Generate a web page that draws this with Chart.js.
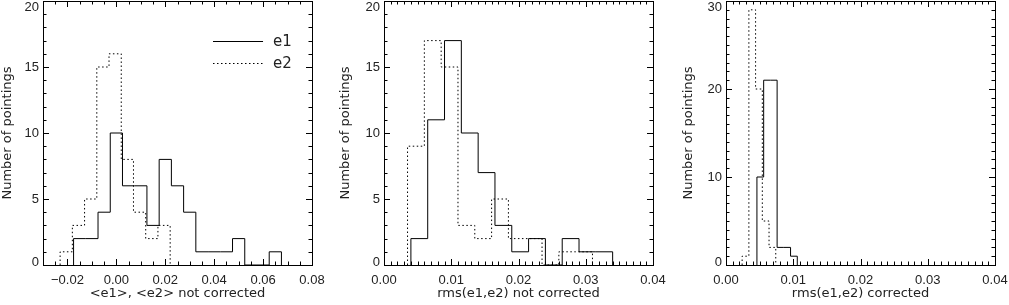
<!DOCTYPE html>
<html>
<head>
<meta charset="utf-8">
<script src="https://cdn.jsdelivr.net/npm/chart.js@4.4.1/dist/chart.umd.min.js"></script>
<style>
  html, body { margin: 0; padding: 0; background: #fff; }
  body { width: 1009px; height: 305px; position: relative; overflow: hidden; }
  canvas { position: absolute; top: 0; }
</style>
</head>
<body>
<canvas id="p1" width="332" height="305" style="left:0px"></canvas>
<canvas id="p2" width="335" height="305" style="left:338px"></canvas>
<canvas id="p3" width="328" height="305" style="left:681px"></canvas>
<script>
// bin edges and counts
const p1E1Edges = [-0.0175, -0.0125, -0.0075, -0.0025, 0.0025, 0.0075, 0.0125, 0.0175, 0.0225, 0.0275, 0.0325, 0.0375, 0.0425, 0.0475, 0.0525, 0.0575, 0.0625, 0.0675];
const p1E1Counts = [2, 2, 4, 10, 6, 6, 3, 8, 6, 4, 1, 1, 1, 2, 0, 0, 1];
const p1E2Edges = [-0.023, -0.018, -0.013, -0.008, -0.003, 0.002, 0.007, 0.012, 0.017, 0.022];
const p1E2Counts = [1, 3, 5, 15, 16, 8, 4, 2, 3];

const p2E1Edges = [0.004, 0.0065, 0.009, 0.0115, 0.014, 0.0165, 0.019, 0.0215, 0.024, 0.0265, 0.029, 0.0315, 0.034];
const p2E1Counts = [2, 11, 17, 10, 7, 3, 1, 2, 0, 2, 1, 1];
const p2E2Edges = [0.0035, 0.006, 0.0085, 0.011, 0.0135, 0.016, 0.0185, 0.021, 0.0235, 0.026, 0.0285, 0.031];
const p2E2Counts = [9, 17, 15, 3, 2, 5, 2, 2, 0, 1, 1];

const p3E1Edges = [0.0046, 0.0056, 0.0066, 0.0076, 0.0086, 0.0096, 0.0106];
const p3E1Counts = [10, 21, 21, 2, 2, 1];
const p3E2Edges = [0.0024, 0.0034, 0.0044, 0.0054, 0.0064, 0.0074];
const p3E2Counts = [1, 29, 20, 5, 2];

const seriesNames = ['e1', 'e2'];
const yTitle = 'Number of pointings';
const xTitles = ['<e1>, <e2> not corrected', 'rms(e1,e2) not corrected', 'rms(e1,e2) corrected'];

const textColor = '#222';
const tickFont = { family: "'Liberation Sans', Arial, sans-serif", size: 13 };
const titleFont = { family: "'DejaVu Sans', sans-serif", size: 13 };

function histPoints(edges, counts) {
  const pts = [{ x: edges[0], y: 0 }];
  counts.forEach((c, i) => pts.push({ x: edges[i], y: c }));
  pts.push({ x: edges[edges.length - 1], y: 0 });
  return pts;
}

function fmtX(v) {
  return (v < -1e-9 ? '\u2212' : '') + Math.abs(v).toFixed(2);
}

// box with inward major/minor ticks on all four sides, like IDL
const idlFrame = {
  id: 'idlFrame',
  beforeDraw(chart) {
    const s = chart.scales.y;
    const items = s.getLabelItems ? s.getLabelItems() : null;
    if (!items) return;
    items.forEach(it => {
      const t = it.options && it.options.translation;
      if (t) t[1] = Math.min(Math.max(t[1], s.top + 6), s.bottom - 2.5);
    });
  },
  afterDatasetsDraw(chart, args, opts) {
    const { ctx, chartArea: a, scales: { x, y } } = chart;
    const majLen = 6, minLen = 3.5;
    ctx.save();
    ctx.strokeStyle = '#000';
    ctx.lineWidth = 1;
    ctx.setLineDash([]);
    ctx.strokeRect(Math.round(a.left) + 0.5, Math.round(a.top) + 0.5,
      Math.round(a.right - a.left), Math.round(a.bottom - a.top));
    ctx.beginPath();
    const xMaj = x.ticks.map(t => t.value);
    for (let i = Math.ceil(x.min / opts.xMinor - 1e-6); i * opts.xMinor <= x.max + 1e-9; i++) {
      const v = i * opts.xMinor;
      const isMaj = xMaj.some(m => Math.abs(m - v) < opts.xMinor / 10);
      const len = isMaj ? majLen : minLen;
      const px = Math.round(x.getPixelForValue(v)) + 0.5;
      ctx.moveTo(px, a.bottom); ctx.lineTo(px, a.bottom - len);
      ctx.moveTo(px, a.top); ctx.lineTo(px, a.top + len);
    }
    const yMaj = y.ticks.map(t => t.value);
    for (let i = Math.ceil(y.min / opts.yMinor); i * opts.yMinor <= y.max + 1e-9; i++) {
      const v = i * opts.yMinor;
      const isMaj = yMaj.some(m => Math.abs(m - v) < opts.yMinor / 10);
      const len = isMaj ? majLen : minLen;
      const py = Math.round(y.getPixelForValue(v)) + 0.5;
      ctx.moveTo(a.left, py); ctx.lineTo(a.left + len, py);
      ctx.moveTo(a.right, py); ctx.lineTo(a.right - len, py);
    }
    ctx.stroke();
    ctx.restore();
  },
  afterDraw(chart, args, opts) {
    if (!opts.legend) return;
    const { ctx, chartArea: a } = chart;
    const w = a.right - a.left, h = a.bottom - a.top;
    ctx.save();
    chart.data.datasets.forEach((ds, i) => {
      const yy = Math.round(a.top + h * (0.150 + 0.086 * i)) + 0.5;
      ctx.strokeStyle = ds.borderColor;
      ctx.lineWidth = 1;
      ctx.setLineDash(ds.borderDash || []);
      ctx.beginPath();
      ctx.moveTo(a.left + w * 0.632, yy);
      ctx.lineTo(a.left + w * 0.818, yy);
      ctx.stroke();
      ctx.setLineDash([]);
      ctx.fillStyle = textColor;
      ctx.font = "15px 'DejaVu Sans', sans-serif";
      ctx.textBaseline = 'middle';
      ctx.fillText(ds.label, a.left + w * 0.855, yy + 1);
    });
    ctx.restore();
  }
};

function makePanel(id, cfg) {
  return new Chart(document.getElementById(id), {
    type: 'scatter',
    data: {
      datasets: [
        { label: seriesNames[0], data: histPoints(cfg.e1Edges, cfg.e1Counts), showLine: true, stepped: 'before',
          borderColor: '#000', borderWidth: 1, pointRadius: 0, fill: false },
        { label: seriesNames[1], data: histPoints(cfg.e2Edges, cfg.e2Counts), showLine: true, stepped: 'before',
          borderColor: '#000', borderWidth: 1, borderDash: [1.5, 2.5], pointRadius: 0, fill: false }
      ]
    },
    options: {
      responsive: false,
      animation: false,
      events: [],
      layout: { padding: { top: 1, right: cfg.padRight, bottom: 0, left: 0 } },
      scales: {
        x: {
          type: 'linear', min: cfg.xMin, max: cfg.xMax,
          ticks: { stepSize: cfg.xStep, includeBounds: false, padding: 8, maxRotation: 0, autoSkip: false,
            font: tickFont, color: textColor, callback: fmtX },
          grid: { display: false, drawTicks: false },
          border: { display: false },
          title: { display: true, text: cfg.xTitle, font: titleFont, color: textColor, padding: { top: 0, bottom: 4 } },
          afterFit: s => { s.height = 40; s.paddingLeft = 0; s.paddingRight = 0; }
        },
        y: {
          type: 'linear', min: 0, max: cfg.yMax,
          ticks: { stepSize: cfg.yStep, padding: 4, font: tickFont, color: textColor },
          grid: { display: false, drawTicks: false },
          border: { display: false },
          title: { display: true, text: yTitle, font: titleFont, color: textColor, padding: { top: 0, bottom: 0 } },
          afterFit: s => { s.width = cfg.yWidth; s.paddingTop = 0; s.paddingBottom = 0; }
        }
      },
      plugins: {
        legend: { display: false },
        tooltip: { enabled: false },
        idlFrame: { xMinor: cfg.xMinor, yMinor: 1, legend: !!cfg.legend }
      }
    },
    plugins: [idlFrame]
  });
}

makePanel('p1', { e1Edges: p1E1Edges, e1Counts: p1E1Counts, e2Edges: p1E2Edges, e2Counts: p1E2Counts,
  xMin: -0.03, xMax: 0.08, xStep: 0.02, xMinor: 0.005, yMax: 20, yStep: 5,
  xTitle: xTitles[0], yWidth: 43, padRight: 20, legend: true });
makePanel('p2', { e1Edges: p2E1Edges, e1Counts: p2E1Counts, e2Edges: p2E2Edges, e2Counts: p2E2Counts,
  xMin: 0, xMax: 0.04, xStep: 0.01, xMinor: 0.001, yMax: 20, yStep: 5,
  xTitle: xTitles[1], yWidth: 46, padRight: 20 });
makePanel('p3', { e1Edges: p3E1Edges, e1Counts: p3E1Counts, e2Edges: p3E2Edges, e2Counts: p3E2Counts,
  xMin: 0, xMax: 0.04, xStep: 0.01, xMinor: 0.001, yMax: 30, yStep: 10,
  xTitle: xTitles[2], yWidth: 45, padRight: 14 });
</script>
</body>
</html>
